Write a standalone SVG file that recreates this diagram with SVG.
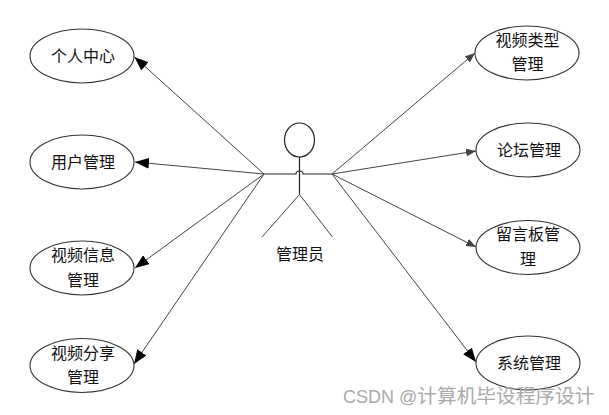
<svg xmlns="http://www.w3.org/2000/svg" width="609" height="415" viewBox="0 0 609 415">
<style>
.n{fill:#fff;stroke:#333;stroke-width:1.1}
.t{font-family:"Noto Sans CJK SC","Noto Sans CJK JP",sans-serif;font-size:16px;fill:#111;text-anchor:middle}
.w{font-family:"Liberation Sans","Noto Sans CJK SC",sans-serif;font-size:18px;fill:#aaa}
.c{font-family:"Noto Sans CJK SC","Noto Sans CJK JP",sans-serif;font-size:19.7px}
.l{stroke:#444;stroke-width:1;fill:none}
.a{stroke:#222;stroke-width:1.2;fill:none}
.b{stroke:#444;stroke-width:1;fill:none}
</style>
<defs>
<marker id="big" markerUnits="userSpaceOnUse" markerWidth="16" markerHeight="12" refX="14" refY="5.500" orient="auto"><path d="M0 0L14 5.500L0 11Z" fill="#000"/></marker>
<marker id="small" markerUnits="userSpaceOnUse" markerWidth="12" markerHeight="10" refX="10" refY="4" orient="auto"><path d="M0 0L10 4L0 8Z" fill="#444"/></marker>
</defs>
<g id="connectors">
<path class="l" d="M264 174L134.500 57" marker-end="url(#big)"/>
<path class="l" d="M264 174L135 162" marker-end="url(#big)"/>
<path class="l" d="M264 174L135 268" marker-end="url(#big)"/>
<path class="l" d="M264 174L134 364" marker-end="url(#big)"/>
<path class="l" d="M332 174L475 53" marker-end="url(#small)"/>
<path class="l" d="M332 174L476 151" marker-end="url(#small)"/>
<path class="l" d="M332 174L476 247" marker-end="url(#small)"/>
<path class="l" d="M332 174L476 362" marker-end="url(#big)"/>
</g>
<g id="actor">
<ellipse cx="299.500" cy="140" rx="15" ry="17" fill="#fff" stroke="#222" stroke-width="1.200"/>
<path class="a" d="M299.500 157V194.500"/>
<path class="a" d="M264 174H296C296 170 303 170 303 174H332"/>
<path class="b" d="M299.500 194.500L262 237M299.500 194.500L332.500 237"/>
<text class="t" x="300" y="260">管理员</text>
</g>
<g id="n1"><ellipse class="n" cx="82" cy="56" rx="52" ry="27"/><text class="t" x="83" y="62">个人中心</text></g>
<g id="n2"><ellipse class="n" cx="82" cy="162" rx="52" ry="27"/><text class="t" x="83" y="168">用户管理</text></g>
<g id="n3"><ellipse class="n" cx="82" cy="268" rx="52" ry="27"/><text class="t" x="83" y="261">视频信息</text><text class="t" x="83" y="286">管理</text></g>
<g id="n4"><ellipse class="n" cx="82" cy="365.500" rx="52" ry="27"/><text class="t" x="83" y="359">视频分享</text><text class="t" x="83" y="383">管理</text></g>
<g id="n5"><ellipse class="n" cx="527" cy="53" rx="52" ry="27"/><text class="t" x="527.500" y="46">视频类型</text><text class="t" x="527.500" y="70">管理</text></g>
<g id="n6"><ellipse class="n" cx="528" cy="150" rx="52" ry="27"/><text class="t" x="529" y="156">论坛管理</text></g>
<g id="n7"><ellipse class="n" cx="528" cy="247.500" rx="52" ry="27"/><text class="t" x="528" y="240">留言板管</text><text class="t" x="528" y="265">理</text></g>
<g id="n8"><ellipse class="n" cx="528" cy="363" rx="52" ry="27"/><text class="t" x="529" y="369">系统管理</text></g>
<text class="w" x="343" y="403">CSDN @<tspan class="c">计算机毕设程序设计</tspan></text>
</svg>
